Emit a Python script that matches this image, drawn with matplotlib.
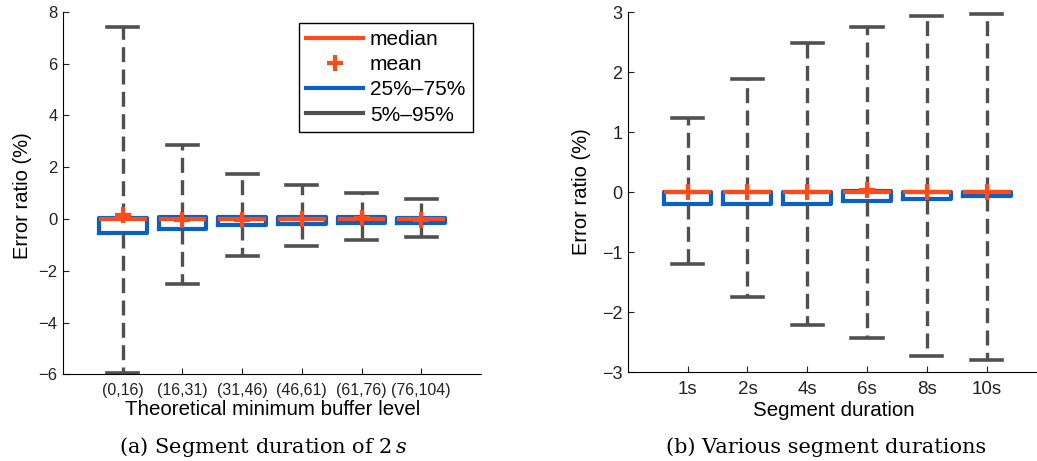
import matplotlib
matplotlib.use("Agg")
import matplotlib.pyplot as plt
from matplotlib.lines import Line2D

plt.rcParams["font.family"] = ["Liberation Sans", "DejaVu Sans"]
plt.rcParams["mathtext.fontset"] = "dejavuserif"

# (a) segment duration of 2 s, grouped by theoretical minimum buffer level
buffer_labels = ["(0,16)", "(16,31)", "(31,46)", "(46,61)", "(61,76)", "(76,104)"]
a_p5 = [-5.95, -2.50, -1.42, -1.05, -0.80, -0.70]
a_p25 = [-0.54, -0.39, -0.25, -0.20, -0.15, -0.15]
a_med = [0.00, 0.00, 0.00, 0.00, 0.00, 0.00]
a_p75 = [0.04, 0.08, 0.09, 0.08, 0.08, 0.04]
a_p95 = [7.40, 2.85, 1.72, 1.30, 1.02, 0.75]
a_mean = [0.15, -0.03, -0.03, 0.01, 0.02, -0.03]

# (b) various segment durations
duration_labels = ["1s", "2s", "4s", "6s", "8s", "10s"]
b_p5 = [-1.19, -1.75, -2.22, -2.43, -2.73, -2.80]
b_p25 = [-0.19, -0.20, -0.20, -0.15, -0.12, -0.07]
b_med = [0.00, 0.00, 0.00, 0.00, 0.00, 0.00]
b_p75 = [0.01, 0.01, 0.01, 0.02, 0.01, 0.01]
b_p95 = [1.24, 1.89, 2.48, 2.76, 2.94, 2.97]
b_mean = [0.01, 0.01, 0.01, 0.03, 0.01, 0.00]

RED = "#ff4a1a"
BLUE = "#0b60c4"
GREY = "#505050"


def make_stats(lo, q1, med, q3, hi, mean):
    return [dict(whislo=l, q1=a, med=m, q3=b, whishi=h, mean=mu, fliers=[])
            for l, a, m, b, h, mu in zip(lo, q1, med, q3, hi, mean)]


def draw_panel(ax, stats, labels, ylim, yticks, tick_size, xtick_size):
    ax.bxp(stats, positions=range(1, len(stats) + 1), widths=0.8,
           showmeans=True, showfliers=False, manage_ticks=False,
           boxprops=dict(color=BLUE, linewidth=3.0),
           medianprops=dict(color=RED, linewidth=3.0),
           whiskerprops=dict(color=GREY, linewidth=2.4, linestyle=(0, (4.5, 2.2))),
           capprops=dict(color=GREY, linewidth=2.6),
           capwidths=0.52,
           meanprops=dict(marker="+", markeredgecolor=RED, markersize=12,
                          markeredgewidth=3.0, linestyle="none"))
    ax.set_ylim(*ylim)
    ax.set_yticks(yticks)
    ax.set_xticks(range(1, len(labels) + 1))
    ax.set_xticklabels(labels)
    ax.spines["top"].set_visible(False)
    ax.spines["right"].set_visible(False)
    ax.tick_params(direction="in", length=4, color="#222222", labelcolor="#222222")
    ax.tick_params(axis="y", labelsize=tick_size, pad=4)
    ax.tick_params(axis="x", labelsize=xtick_size, pad=6)


fig = plt.figure(figsize=(10.37, 4.61), dpi=100)

ax1 = fig.add_axes([0.0608, 0.188, 0.403, 0.7866])
draw_panel(ax1, make_stats(a_p5, a_p25, a_med, a_p75, a_p95, a_mean),
           buffer_labels, (-6, 8), range(-6, 9, 2), 12, 11.5)
ax1.set_xlim(0, 7)
ax1.set_xlabel("Theoretical minimum buffer level", fontsize=14.8)
ax1.xaxis.set_label_coords(0.501, -0.072)
ax1.set_ylabel("Error ratio (%)", fontsize=14.5)
ax1.yaxis.set_label_coords(-0.075, 0.494)

handles = [
    Line2D([], [], color=RED, linewidth=3),
    Line2D([], [], color=RED, marker="+", markersize=12, markeredgewidth=3, linestyle="none"),
    Line2D([], [], color=BLUE, linewidth=3),
    Line2D([], [], color=GREY, linewidth=3),
]
leg = ax1.legend(handles, ["median", "mean", "25%–75%", "5%–95%"],
                 loc="upper right", bbox_to_anchor=(0.4558, 0.9508),
                 bbox_transform=fig.transFigure, fontsize=15,
                 fancybox=False, edgecolor="black", framealpha=1,
                 handlelength=2.7, handletextpad=0.35, labelspacing=0.3,
                 borderpad=0.35, borderaxespad=0)
leg.get_frame().set_linewidth(1.0)

ax2 = fig.add_axes([0.6053, 0.1924, 0.3947, 0.781])
draw_panel(ax2, make_stats(b_p5, b_p25, b_med, b_p75, b_p95, b_mean),
           duration_labels, (-3, 3), range(-3, 4), 13, 13.5)
ax2.set_xlim(0, 6.84)
ax2.set_xlabel("Segment duration", fontsize=14.8)
ax2.xaxis.set_label_coords(0.504, -0.08)
ax2.set_ylabel("Error ratio (%)", fontsize=14.5)
ax2.yaxis.set_label_coords(-0.09, 0.502)

fig.text(0.2535, 0.03, r"(a) Segment duration of 2$\,\mathit{s}$",
         ha="center", va="center", fontsize=15, family="DejaVu Serif")
fig.text(0.797, 0.03, "(b) Various segment durations",
         ha="center", va="center", fontsize=15, family="DejaVu Serif")

fig.savefig("out.png", dpi=100)
